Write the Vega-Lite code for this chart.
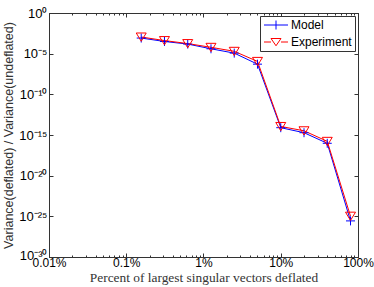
{
  "$schema": "https://vega.github.io/schema/vega-lite/v6.json",
  "width": 309,
  "height": 244,
  "autosize": {"type": "none"},
  "padding": {"left": 49, "top": 13, "right": 16, "bottom": 30},
  "config": {"view": {"stroke": "#333", "strokeWidth": 1}, "font": "Liberation Sans"},
  "data": {"values": [
    {"pct": 0.15625, "v": 8.32e-4, "series": "Model"},
    {"pct": 0.3125, "v": 3.16e-4, "series": "Model"},
    {"pct": 0.625, "v": 1.51e-4, "series": "Model"},
    {"pct": 1.25, "v": 3.98e-5, "series": "Model"},
    {"pct": 2.5, "v": 1.17e-5, "series": "Model"},
    {"pct": 5, "v": 5.13e-7, "series": "Model"},
    {"pct": 10, "v": 7.94e-15, "series": "Model"},
    {"pct": 20, "v": 1.91e-15, "series": "Model"},
    {"pct": 40, "v": 9.55e-17, "series": "Model"},
    {"pct": 80, "v": 2.75e-26, "series": "Model"},
    {"pct": 0.15625, "v": 1.12e-3, "series": "Experiment"},
    {"pct": 0.3125, "v": 4.07e-4, "series": "Experiment"},
    {"pct": 0.625, "v": 1.74e-4, "series": "Experiment"},
    {"pct": 1.25, "v": 6.03e-5, "series": "Experiment"},
    {"pct": 2.5, "v": 1.95e-5, "series": "Experiment"},
    {"pct": 5, "v": 1.12e-6, "series": "Experiment"},
    {"pct": 10, "v": 1.12e-14, "series": "Experiment"},
    {"pct": 20, "v": 3.31e-15, "series": "Experiment"},
    {"pct": 40, "v": 1.66e-16, "series": "Experiment"},
    {"pct": 80, "v": 1.05e-25, "series": "Experiment"}
  ]},
  "layer": [
    {
      "mark": {"type": "line", "strokeWidth": 1},
      "encoding": {
        "x": {"field": "pct", "type": "quantitative",
          "scale": {"type": "log", "domain": [0.01, 100]},
          "axis": {"orient": "bottom", "grid": false,
            "values": [0.01,0.02,0.03,0.04,0.05,0.06,0.07,0.08,0.09,0.1,0.2,0.3,0.4,0.5,0.6,0.7,0.8,0.9,1,2,3,4,5,6,7,8,9,10,20,30,40,50,60,70,80,90,100],
            "format": "~g",
            "labelExpr": "abs(log(datum.value)/LN10 - round(log(datum.value)/LN10)) < 0.001 ? datum.label + '%' : ''",
            "tickSize": {"condition": {"test": "abs(log(datum.value)/LN10 - round(log(datum.value)/LN10)) < 0.001", "value": -4}, "value": -2},
            "labelOverlap": false, "labelFlush": false, "labelBound": false,
            "labelFontSize": 12, "labelColor": "#000", "labelPadding": 4,
            "domainColor": "#333", "tickColor": "#333",
            "title": "Percent of largest singular vectors deflated",
            "titleFont": "Liberation Serif", "titleFontSize": 13.4, "titleFontWeight": "normal", "titleColor": "#333", "titlePadding": 0}},
        "y": {"field": "v", "type": "quantitative",
          "scale": {"type": "log", "domain": [1e-30, 1]},
          "axis": {"orient": "left", "grid": false,
            "values": [1e-30, 1e-25, 1e-20, 1e-15, 1e-10, 1e-5, 1],
            "labelExpr": "datum.value > 0.5 ? '10⁰' : datum.value > 5e-6 ? '10⁻⁵' : datum.value > 5e-11 ? '10⁻¹⁰' : datum.value > 5e-16 ? '10⁻¹⁵' : datum.value > 5e-21 ? '10⁻²⁰' : datum.value > 5e-26 ? '10⁻²⁵' : '10⁻³⁰'",
            "labelOffset": {"condition": {"test": "datum.value < 1e-29", "value": -2}, "value": 0},
            "tickSize": -4, "labelOverlap": false, "labelFlush": false, "labelBound": false,
            "labelFontSize": 13, "labelColor": "#000", "labelPadding": 6,
            "domainColor": "#333", "tickColor": "#333",
            "title": "Variance(deflated) / Variance(undeflated)",
            "titleFont": "Liberation Sans", "titleFontSize": 12.5, "titleFontWeight": "normal", "titleColor": "#333", "titlePadding": 3}},
        "color": {"field": "series", "type": "nominal",
          "scale": {"domain": ["Model", "Experiment"], "range": ["#0000ff", "#ff0000"]}, "legend": null}
      }
    },
    {
      "mark": {"type": "point", "filled": false, "strokeWidth": 1, "opacity": 1, "size": 100},
      "encoding": {
        "x": {"field": "pct", "type": "quantitative", "scale": {"type": "log", "domain": [0.01, 100]}, "axis": null},
        "y": {"field": "v", "type": "quantitative", "scale": {"type": "log", "domain": [1e-30, 1]}, "axis": null},
        "color": {"field": "series", "type": "nominal",
          "scale": {"domain": ["Model", "Experiment"], "range": ["#0000ff", "#ff0000"]}, "legend": null},
        "shape": {"field": "series", "type": "nominal",
          "scale": {"domain": ["Model", "Experiment"], "range": ["M-0.9,0H0.9M0,-0.9V0.9", "M-1,-0.8H1L0,0.85Z"]}, "legend": null}
      }
    },
    {
      "mark": {"type": "point", "filled": false, "strokeWidth": 1, "opacity": 0},
      "encoding": {
        "x": {"field": "pct", "type": "quantitative", "scale": {"type": "log", "domain": [0.01, 100]}, "axis": null},
        "y": {"field": "v", "type": "quantitative", "scale": {"type": "log", "domain": [1e-30, 1]}, "axis": null},
        "color": {"field": "series", "type": "nominal",
          "scale": {"domain": ["Model", "Experiment"], "range": ["#0000ff", "#ff0000"]},
          "legend": {"orient": "top-right", "offset": 3, "title": null, "fillColor": "white", "strokeColor": "#333", "padding": 3, "labelFontSize": 12, "labelFont": "Liberation Sans", "labelColor": "#000", "symbolSize": 100, "symbolStrokeWidth": 1, "symbolOpacity": 1, "rowPadding": 4, "labelOffset": 16}},
        "shape": {"field": "series", "type": "nominal",
          "scale": {"domain": ["Model", "Experiment"], "range": ["M-1,0H3.8M1.4,-0.9V0.9", "M-1,0H0.4M2.4,0H3.8M0.4,-0.7H2.4L1.4,0.75Z"]},
          "legend": {"orient": "top-right", "offset": 3, "title": null, "fillColor": "white", "strokeColor": "#333", "padding": 3, "labelFontSize": 12, "labelFont": "Liberation Sans", "labelColor": "#000", "symbolSize": 100, "symbolStrokeWidth": 1, "symbolOpacity": 1, "rowPadding": 4, "labelOffset": 16}}
      }
    },
    {
      "mark": {"type": "point", "opacity": 0},
      "encoding": {
        "x": {"field": "pct", "type": "quantitative",
          "scale": {"type": "log", "domain": [0.01, 100]},
          "axis": {"orient": "top", "grid": false, "labels": false, "title": null,
            "values": [0.01,0.02,0.03,0.04,0.05,0.06,0.07,0.08,0.09,0.1,0.2,0.3,0.4,0.5,0.6,0.7,0.8,0.9,1,2,3,4,5,6,7,8,9,10,20,30,40,50,60,70,80,90,100],
            "tickSize": {"condition": {"test": "abs(log(datum.value)/LN10 - round(log(datum.value)/LN10)) < 0.001", "value": -4}, "value": -2},
            "domainColor": "#333", "tickColor": "#333"}},
        "y": {"field": "v", "type": "quantitative",
          "scale": {"type": "log", "domain": [1e-30, 1]},
          "axis": {"orient": "right", "grid": false, "labels": false, "title": null,
            "values": [1e-30, 1e-25, 1e-20, 1e-15, 1e-10, 1e-5, 1],
            "tickSize": -4, "domainColor": "#333", "tickColor": "#333"}}
      }
    }
  ],
  "resolve": {
    "scale": {"shape": "independent", "color": "independent"},
    "axis": {"x": "independent", "y": "independent"}
  }
}
